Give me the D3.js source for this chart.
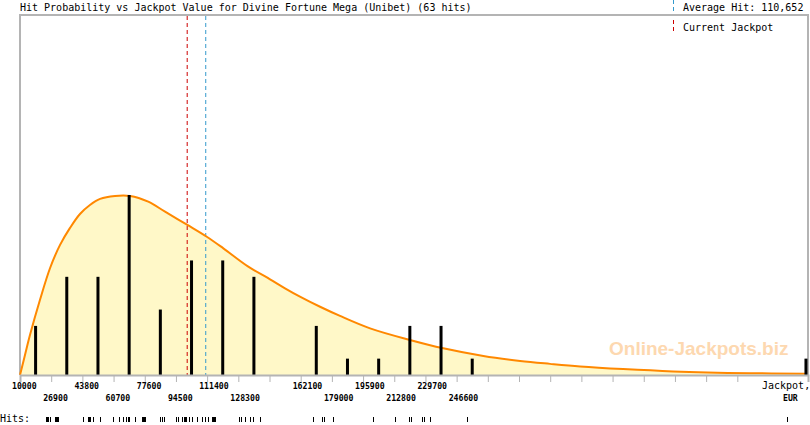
<!DOCTYPE html>
<html><head><meta charset="utf-8">
<script src="https://cdn.jsdelivr.net/npm/d3@7"></script>
<style>
html,body{margin:0;padding:0;background:#fff;}
svg{display:block;}
</style>
</head><body>
<svg id="chart" width="810" height="425"></svg>
<script>
// ---- data ----
const titleText = "Hit Probability vs Jackpot Value for Divine Fortune Mega (Unibet) (63 hits)";
const averageHit = 110652;
const currentJackpot = 100600;
const xDomain = [10000, 437000];
const tickValues = [10000,26900,43800,60700,77600,94500,111400,128300,145200,162100,179000,195900,212800,229700,246600,263500,280400,297300,314200,331100,348000,364900,381800,398700];
const labelsRow1 = [10000,43800,77600,111400,162100,195900,229700];
const labelsRow2 = [26900,60700,94500,128300,179000,212800,246600];
const barCenters = [18450,35350,52250,69150,86050,102950,119850,136750,170550,187450,204350,221250,238150,255050,435900];
const barCounts = [3,6,6,11,4,7,7,6,3,1,1,3,3,1,1];
const curveX = [10000,12700,15400,20800,26300,31700,37100,42500,47900,53400,61500,69600,79500,88600,100700,111200,120200,133700,145500,153600,161700,172600,183400,199700,221300,239400,261100,281000,297200,313500,336800,363900,405600,436000];
const curveY = [0,1.22,2.44,4.58,6.54,7.95,8.99,9.84,10.39,10.76,10.94,10.94,10.59,9.98,9.17,8.45,7.74,6.62,5.85,5.30,4.79,4.17,3.61,2.85,2.14,1.63,1.16,0.86,0.68,0.52,0.36,0.22,0.11,0.08];
const hits = [24100,24600,25200,26300,29000,29500,30100,30600,
  44100,46800,47400,47900,49600,53400,
  60400,63600,65800,67400,68300,69100,72300,76100,76700,77200,77700,
  85900,87000,88000,
  94500,95600,97800,98900,99400,100000,101600,103200,
  105900,108600,110300,111900,114000,114600,115100,115700,
  128700,129800,131900,134600,136300,140100,
  168800,173700,174700,179600,201300,213200,220800,221900,227800,228900,232200,252200,425600];

// ---- layout ----
const L = 20, R = 808, T = 15, B = 375;
const svg = d3.select("#chart");
const x = d3.scaleLinear().domain(xDomain).range([L, R]);
const y = d3.scaleLinear().domain([0, 22]).range([B, T]);
const mono = "'DejaVu Sans Mono', monospace";

// frame
svg.append("path")
  .attr("d", `M${L},${B} L${L},${T} L${R},${T} L${R},${B}`)
  .attr("fill", "none").attr("stroke", "#b4b4b4").attr("stroke-width", 2);

// curve fill
const pts = curveX.map((v, i) => [v, curveY[i]]);
const area = d3.area().x(d => x(d[0])).y0(y(0)).y1(d => y(d[1])).curve(d3.curveCatmullRom.alpha(0.5));
const line = d3.line().x(d => x(d[0])).y(d => y(d[1])).curve(d3.curveCatmullRom.alpha(0.5));
svg.append("path").attr("d", area(pts)).attr("fill", "#fff8c8");

// watermark
svg.append("text").attr("x", 609).attr("y", 355)
  .attr("font-family", "'Liberation Sans', Arial, sans-serif").attr("font-weight", "bold")
  .attr("font-size", 19).attr("fill", "#fdd8b0").text("Online-Jackpots.biz");

// dashed reference lines
svg.append("line").attr("x1", x(currentJackpot)).attr("x2", x(currentJackpot))
  .attr("y1", T + 1).attr("y2", B).attr("stroke", "#cc0000").attr("stroke-width", 1)
  .attr("stroke-dasharray", "4,3");
svg.append("line").attr("x1", x(averageHit)).attr("x2", x(averageHit))
  .attr("y1", T + 1).attr("y2", B).attr("stroke", "#3399cc").attr("stroke-width", 1)
  .attr("stroke-dasharray", "4,3");

// curve line
svg.append("path").attr("d", line(pts)).attr("fill", "none")
  .attr("stroke", "#ff8800").attr("stroke-width", 2);

// bars
svg.selectAll("rect.bar").data(barCenters).enter().append("rect")
  .attr("class", "bar")
  .attr("x", (d) => Math.min(x(d), R - 1.5) - 1.5)
  .attr("width", 3)
  .attr("y", (d, i) => y(barCounts[i]))
  .attr("height", (d, i) => y(0) - y(barCounts[i]))
  .attr("fill", "#000");

// x axis
const axis = d3.axisBottom(x).tickValues(tickValues).tickSize(7).tickFormat("");
const ag = svg.append("g").attr("transform", `translate(0,${B})`).call(axis);
ag.select(".domain").attr("stroke", "#b4b4b4").attr("stroke-width", 2);
ag.selectAll(".tick line").attr("stroke", "#b4b4b4").attr("stroke-width", 1);

svg.selectAll("text.l1").data(labelsRow1).enter().append("text")
  .attr("class", "l1").attr("x", d => x(d) - 8).attr("y", 389)
  .attr("font-family", mono).attr("font-weight", "bold").attr("font-size", 8.2)
  .attr("fill", "#000").text(d => d);
svg.selectAll("text.l2").data(labelsRow2).enter().append("text")
  .attr("class", "l2").attr("x", d => x(d) - 8).attr("y", 401)
  .attr("font-family", mono).attr("font-weight", "bold").attr("font-size", 8.2)
  .attr("fill", "#000").text(d => d);

svg.append("text").attr("x", 762).attr("y", 389).attr("font-family", mono)
  .attr("font-size", 10).attr("fill", "#000").text("Jackpot,");
svg.append("text").attr("x", 783).attr("y", 401).attr("font-family", mono)
  .attr("font-weight", "bold").attr("font-size", 8.2).attr("fill", "#000").text("EUR");

// title & legend
svg.append("text").attr("x", 20).attr("y", 11).attr("font-family", mono)
  .attr("font-size", 10).attr("fill", "#000").text(titleText);
svg.append("text").attr("x", 683).attr("y", 11).attr("font-family", mono)
  .attr("font-size", 10).attr("fill", "#000").text("Average Hit: " + d3.format(",")(averageHit));
svg.append("text").attr("x", 683).attr("y", 31).attr("font-family", mono)
  .attr("font-size", 10).attr("fill", "#000").text("Current Jackpot");
svg.append("line").attr("x1", 673.5).attr("x2", 673.5).attr("y1", 0).attr("y2", 12)
  .attr("stroke", "#3399cc").attr("stroke-dasharray", "4,3");
svg.append("line").attr("x1", 673.5).attr("x2", 673.5).attr("y1", 20).attr("y2", 33)
  .attr("stroke", "#cc0000").attr("stroke-dasharray", "4,3");

// hits row
svg.append("text").attr("x", 0).attr("y", 422).attr("font-family", mono)
  .attr("font-size", 10).attr("fill", "#000").text("Hits:");
svg.selectAll("line.hit").data(hits).enter().append("line")
  .attr("class", "hit")
  .attr("x1", d => Math.round(x(d)) + 0.5).attr("x2", d => Math.round(x(d)) + 0.5)
  .attr("y1", 417).attr("y2", 422).attr("stroke", "#000").attr("stroke-width", 1);
</script>
</body></html>
